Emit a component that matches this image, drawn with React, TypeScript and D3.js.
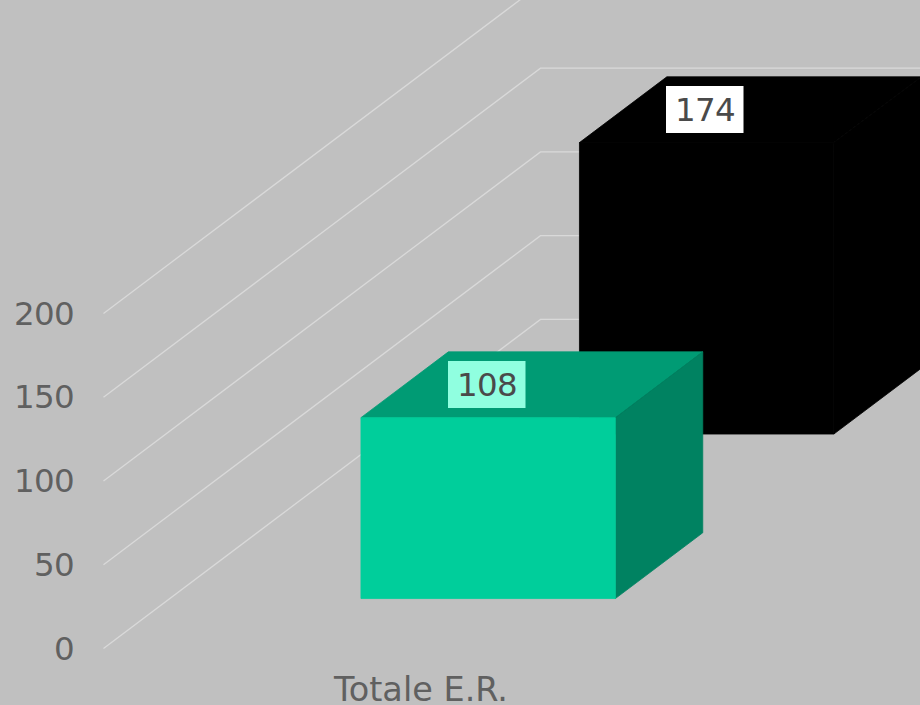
import * as d3 from "d3";

const categories = ["Totale E.R."];
const seriesNames = ["Serie A", "Serie B"];
const seriesValues = [108, 174];
const yTicks = [0, 50, 100, 150, 200];
const wallTicks = [0, 50, 100, 150, 200];

const frontColors = ["#00ce9b", "#000000"];
const topColors = ["#009b74", "#000000"];
const sideColors = ["#008261", "#000000"];
const labelFills = ["#90ffe0", "#ffffff"];

const width = 920;
const height = 705;

// value -> pixel on the front plane of the 3d box
const y = d3.scaleLinear().domain([0, 200]).range([647.9, 312.9]);
// depth into the box (0 = front, 1 = back wall)
const depthX = d3.scaleLinear().domain([0, 1]).range([0, 437]);
const depthY = d3.scaleLinear().domain([0, 1]).range([0, -329]);

const xBand = d3
  .scaleBand<string>()
  .domain(categories)
  .range([104.6, 740.6])
  .paddingInner(0.6)
  .paddingOuter(0.3);
const zBand = d3
  .scaleBand<string>()
  .domain(seriesNames)
  .range([0, 1])
  .paddingInner(0.6)
  .paddingOuter(0.3);

const line = d3.line();

function project(x: number, depth: number, value: number): [number, number] {
  return [x + depthX(depth), y(value) + depthY(depth)];
}

export default function App() {
  const font = "'DejaVu Sans', sans-serif";
  const x0 = xBand(categories[0]) as number;
  const x1 = x0 + xBand.bandwidth();

  return (
    <svg
      width={width}
      height={height}
      style={{ position: "absolute", left: 0, top: 0, display: "block" }}
    >
      <rect width={width} height={height} fill="#c0c0c0" />

      {wallTicks.map((t) => (
        <path
          key={t}
          d={
            line([
              project(103.5, 0, t - 0.3),
              project(103.5, 1, t - 0.3),
              project(703.5, 1, t - 0.3),
            ]) as string
          }
          fill="none"
          stroke="#d9d9d9"
          strokeWidth={1.3}
        />
      ))}

      <g style={{ opacity: 0.999 }}>
        {yTicks.map((t) => (
          <text
            key={t}
            x={74}
            y={y(t)}
            dy="0.36em"
            textAnchor="end"
            fontFamily={font}
            fontSize={32.5}
            letterSpacing={-0.7}
            fill="#606060"
          >
            {t}
          </text>
        ))}

        <text
          x={421}
          y={701}
          textAnchor="middle"
          fontFamily={font}
          fontSize={33.5}
          fill="#606060"
        >
          {categories[0]}
        </text>
      </g>

      {seriesNames
        .map((name, i) => ({ name, i, value: seriesValues[i] }))
        .reverse()
        .map(({ name, i, value }) => {
          const z0 = zBand(name) as number;
          const z1 = z0 + zBand.bandwidth();
          const front = [
            project(x0, z0, 0),
            project(x1, z0, 0),
            project(x1, z0, value),
            project(x0, z0, value),
          ] as [number, number][];
          const top = [
            project(x0, z0, value),
            project(x1, z0, value),
            project(x1, z1, value),
            project(x0, z1, value),
          ] as [number, number][];
          const side = [
            project(x1, z0, 0),
            project(x1, z1, 0),
            project(x1, z1, value),
            project(x1, z0, value),
          ] as [number, number][];
          return (
            <g key={name} strokeWidth={0.8} strokeLinejoin="round">
              <path d={line(top) + "Z"} fill={topColors[i]} stroke={topColors[i]} />
              <path d={line(side) + "Z"} fill={sideColors[i]} stroke={sideColors[i]} />
              <path d={line(front) + "Z"} fill={frontColors[i]} stroke={frontColors[i]} />
            </g>
          );
        })}

      {seriesNames.map((name, i) => {
        const z1 = (zBand(name) as number) + zBand.bandwidth();
        const [lx, ly] = project(x0, z1, seriesValues[i]);
        return (
          <g key={name} style={{ opacity: 0.999 }}>
            <rect
              x={Math.floor(lx)}
              y={Math.floor(ly) + 10}
              width={77.5}
              height={47}
              fill={labelFills[i]}
            />
            <text
              x={Math.floor(lx) + 39}
              y={Math.floor(ly) + 33.5}
              dy="0.36em"
              textAnchor="middle"
              fontFamily={font}
              fontSize={32.5}
              letterSpacing={-0.7}
              fill="#4a4a4a"
            >
              {seriesValues[i]}
            </text>
          </g>
        );
      })}
    </svg>
  );
}
